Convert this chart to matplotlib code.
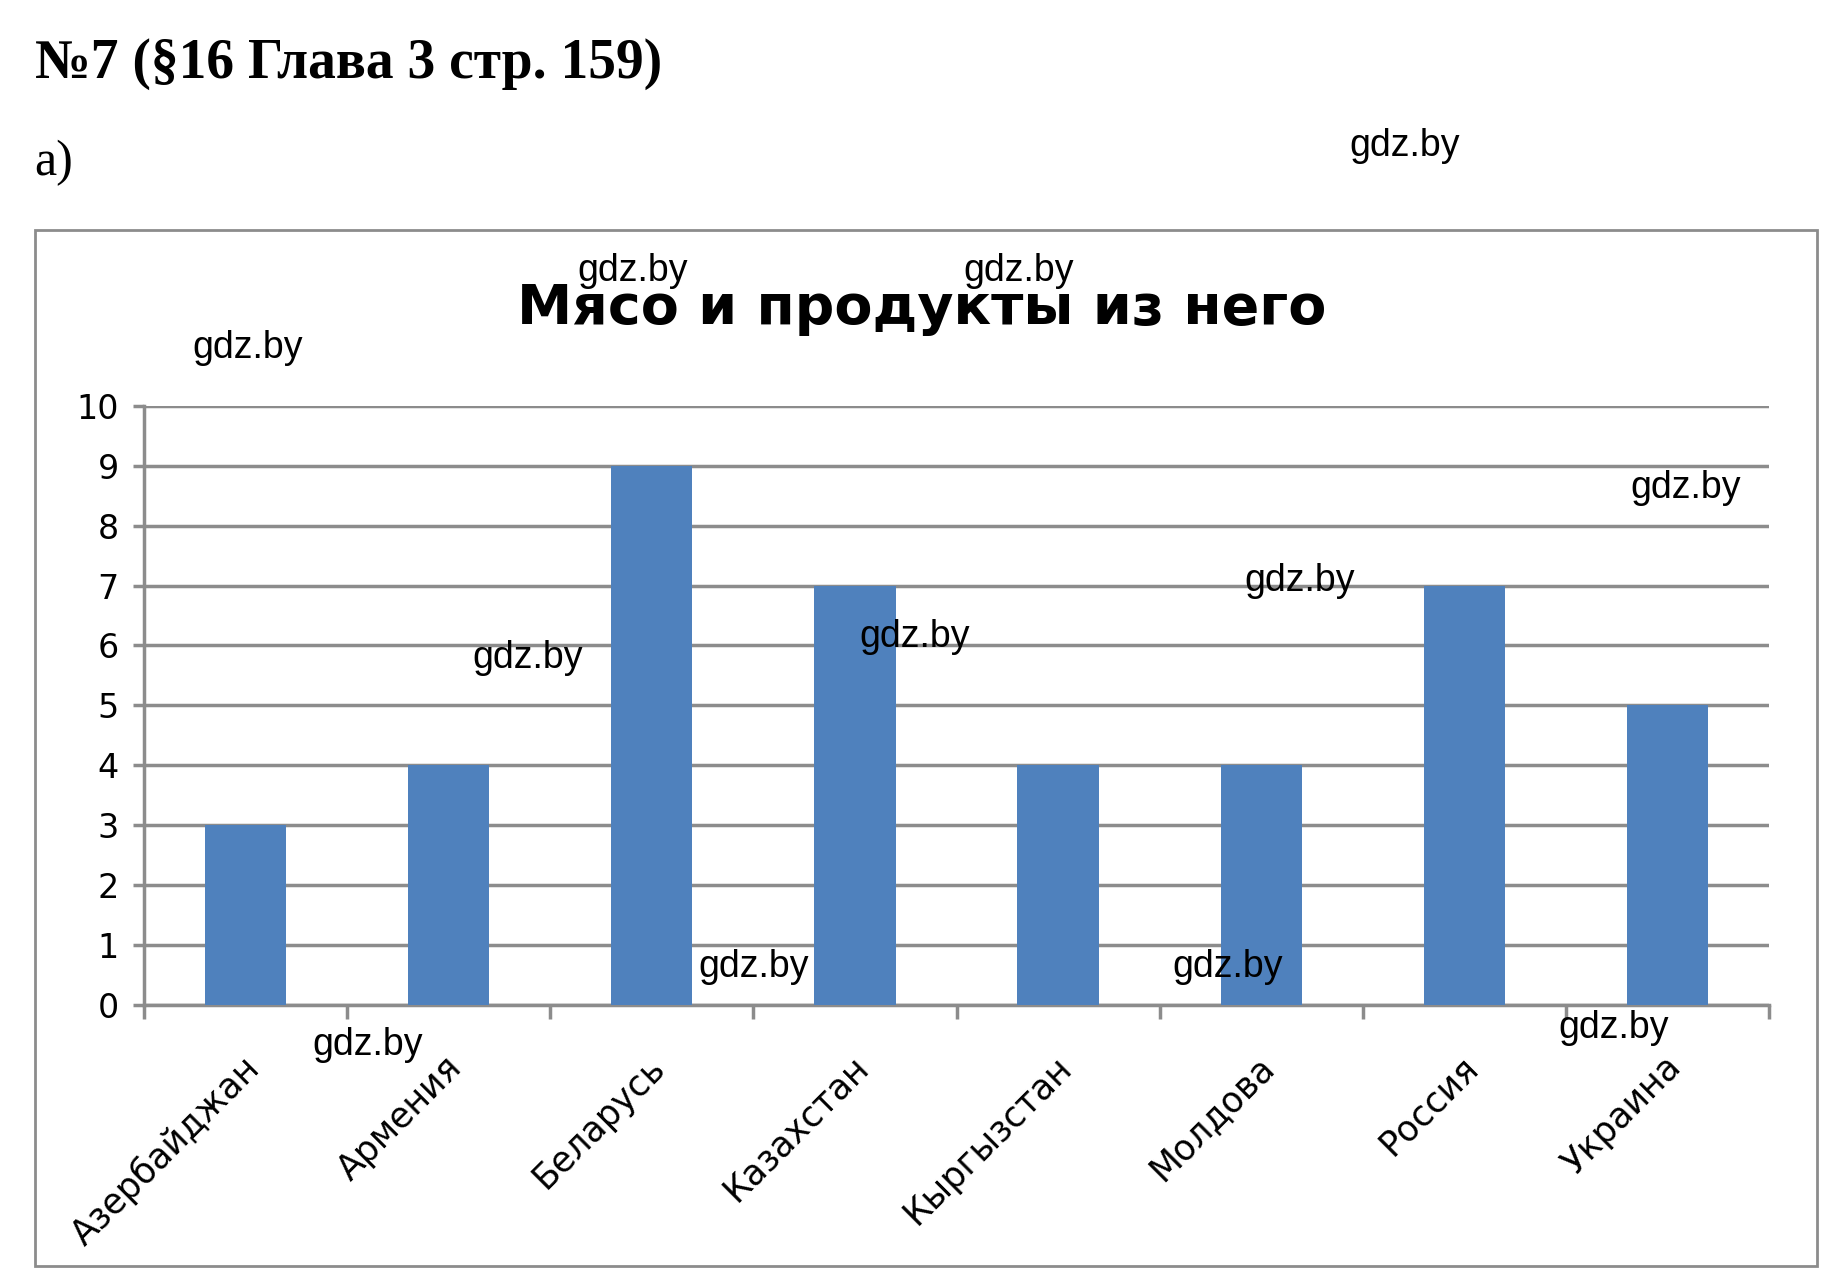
import matplotlib
matplotlib.use("Agg")
import matplotlib.pyplot as plt
from matplotlib.patches import Rectangle

categories = ["Азербайджан", "Армения", "Беларусь", "Казахстан", "Кыргызстан", "Молдова", "Россия", "Украина"]
values = [3, 4, 9, 7, 4, 4, 7, 5]
yticks = list(range(0, 11))

fig = plt.figure(figsize=(18.22, 12.72), dpi=100)
fig.patch.set_facecolor("white")

fig.text(0.019, 0.95, "№7 (§16 Глава 3 стр. 159)", family="Liberation Serif", weight="bold", fontsize=40, va="center")
fig.text(0.019, 0.872, "а)", family="Liberation Serif", fontsize=36, va="center")
fig.patches.append(Rectangle((0.019, 0.005), 0.978, 0.814, transform=fig.transFigure,
                             fill=False, edgecolor="#8c8c8c", linewidth=2))

ax = fig.add_axes([0.079, 0.21, 0.892, 0.471])
x = list(range(len(categories)))
ax.bar(x, values, width=0.4, color="#4f81bd", zorder=3)
ax.set_xlim(-0.5, len(categories) - 0.5)
ax.set_ylim(0, 10)
ax.set_yticks(yticks)
ax.set_yticklabels([str(v) for v in yticks], family="DejaVu Sans", fontsize=24)
ax.yaxis.grid(True, color="#8c8c8c", linewidth=2.5, zorder=0)
for s in ["top", "right"]:
    ax.spines[s].set_visible(False)
ax.spines["left"].set_color("#8c8c8c"); ax.spines["left"].set_linewidth(2.5)
ax.spines["bottom"].set_color("#8c8c8c"); ax.spines["bottom"].set_linewidth(2.5)
ax.tick_params(axis="y", length=8, width=2.5, color="#8c8c8c", direction="out", pad=10)
ax.set_xticks([i - 0.5 for i in range(len(categories) + 1)])
ax.set_xticklabels([])
ax.tick_params(axis="x", length=10, width=2.5, color="#8c8c8c", direction="out")
for i, c in enumerate(categories):
    ax.text(i - 0.02, -0.75, c, rotation=45, ha="right", va="top", family="DejaVu Sans",
            fontsize=25, rotation_mode="anchor")

fig.text(0.506, 0.757, "Мясо и продукты из него", ha="center", va="center",
         family="DejaVu Sans", weight="bold", fontsize=40)

wm = [(1203, 125), (542, 232), (872, 232), (212, 298), (1443, 418), (1113, 497), (783, 545),
      (452, 563), (645, 828), (1051, 828), (315, 895), (1382, 880)]
for px, py in wm:
    fig.text(px / 1560, 1 - py / 1089, "gdz.by", ha="center", va="center",
             family="Liberation Sans", fontsize=27)

fig.savefig("out.png", dpi=100)
